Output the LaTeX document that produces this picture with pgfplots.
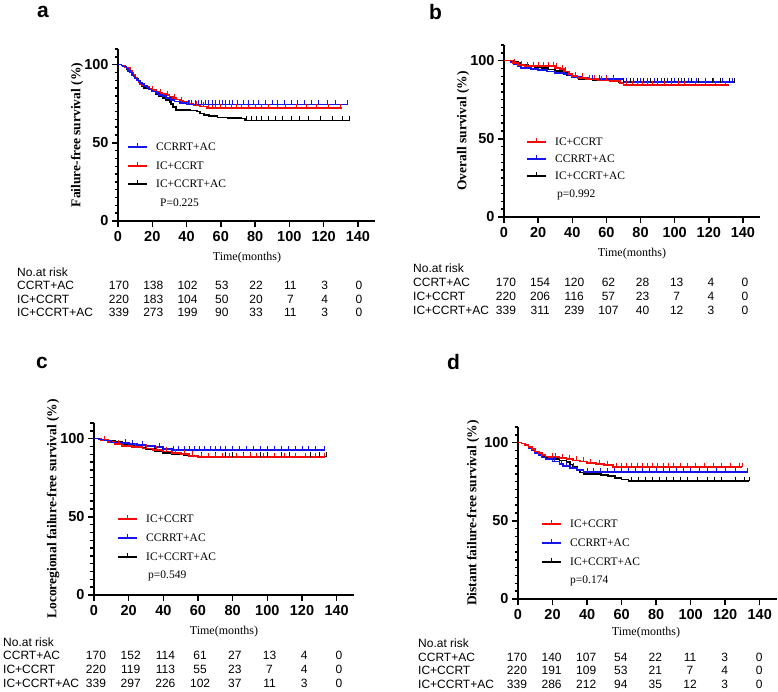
\documentclass[border=0pt]{standalone}
\usepackage{fontspec}
\setmainfont{Liberation Serif}
\setsansfont{Liberation Sans}
\usepackage{pgfplots}
\pgfplotsset{compat=1.18}

\definecolor{kmblue}{RGB}{20,20,235}
\definecolor{kmred}{RGB}{245,10,10}

\pgfplotsset{
  km/.style={
    scale only axis, height=172pt, anchor=south west,
    axis lines*=left, axis line style={line width=2pt},
    xmin=0, xmax=150, ymin=0, ymax=110,
    xtick={0,20,...,140}, ytick={0,50,100},
    extra y ticks={5,10,15,20,25,30,35,40,45,55,60,65,70,75,80,85,90,95,105,110},
    extra y tick labels={},
    extra y tick style={major tick length=3.5pt},
    tick align=outside, major tick length=6pt,
    tick style={line width=1.5pt, black},
    ticklabel style={font=\fontsize{14.5}{14.5}\selectfont\sffamily\bfseries},
    xticklabel style={yshift=-1pt},
    /pgf/number format/assume math mode=true,
    clip=false,
  },
  curve/.style={const plot, line width=1.7pt, mark=none},
  cens/.style={only marks, mark=|, mark size=2.2pt, mark options={line width=1pt, yshift=2pt}},
}

\tikzset{
  risk/.style={font=\fontsize{12}{12}\selectfont\sffamily, inner sep=0pt},
  legt/.style={font=\fontsize{11.5}{11.5}\selectfont\rmfamily, anchor=west, inner sep=0pt},
  ylab/.style={font=\fontsize{13.5}{13.5}\selectfont\rmfamily\bfseries, rotate=90, inner sep=0pt},
  xlab/.style={font=\fontsize{12}{12}\selectfont\rmfamily, inner sep=0pt},
  pan/.style={font=\fontsize{21}{21}\selectfont\sffamily\bfseries, anchor=base west, inner sep=0pt},
}

\newcommand\leg[4]{%
  \draw[#3, line width=1.7pt] (#1,#2) -- ++(19,0);
  \draw[#3, line width=1pt] (#1+9.5,#2) -- ++(0,-4);
  \node[legt] at (#1+28,#2) {#4};}
\newcommand\riskrow[4]{%
  \foreach \n [count=\i from 0] in {#4} \node[risk] at (#1+#2*\i,#3) {\n};}

\begin{document}
\begin{tikzpicture}
\path[use as bounding box] (0,0) rectangle (778pt,-692pt);

% ---------------- a: failure-free survival
\begin{axis}[km, at={(118pt,-221pt)}, width=257pt]
\addplot[curve, black] coordinates {(0,100)(2,99.4)(3,98.8)(5,97.3)(6,96.2)(7,95.3)(8,94.1)(9,92.9)(10,91.7)(11,90.6)(12,89.1)(13,87.6)(14,86.2)(15,84.9)(18,84.1)(20,82.9)(22,81.1)(24,79.9)(26,78.8)(28,77.6)(30,76.1)(31,74.6)(32,72.9)(34,71.2)(42,70.6)(46,70)(48,68.8)(50,67.8)(53,67)(58,66.2)(64,65.8)(72,65.5)(74,64.2)(135,64.2)};
\addplot[cens, black] coordinates {(75,64.2)(78,64.2)(81,64.2)(84,64.2)(88,64.2)(92,64.2)(96,64.2)(101,64.2)(106,64.2)(111,64.2)(118,64.2)(125,64.2)(131,64.2)(135,64.2)};
\addplot[curve, kmred] coordinates {(0,100)(2,99.5)(4,98.6)(5,97.7)(7,95.9)(8,94.5)(9,93.2)(10,91.8)(11,90.5)(12,89.1)(13,87.7)(14,86.8)(15,86.4)(17,85.5)(18,84.5)(20,83.6)(22,82.7)(24,81.8)(26,81.4)(28,80.5)(30,79.5)(32,78.6)(34,77.7)(36,76.8)(38,75.9)(41,75)(44,74.1)(48,73.2)(52,72.3)(131,72.3)};
\addplot[cens, kmred] coordinates {(20,83.6)(25,81.8)(29,80.5)(33,78.6)(37,76.8)(42,75)(46,74.1)(50,73.2)(53,72.3)(55,72.3)(57,72.3)(60,72.3)(63,72.3)(66,72.3)(69,72.3)(72,72.3)(76,72.3)(80,72.3)(84,72.3)(88,72.3)(93,72.3)(98,72.3)(104,72.3)(110,72.3)(116,72.3)(123,72.3)(130,72.3)};
\addplot[curve, kmblue] coordinates {(0,100)(2,99.4)(3,98.8)(5,97.6)(6,96)(7,95)(8,93.5)(9,92.4)(10,91.2)(11,90)(12,89.4)(13,88.2)(14,87.6)(15,86.5)(17,85.3)(18,84.1)(20,82.9)(22,81.8)(24,80.6)(26,80)(28,78.8)(31,77.6)(33,76.5)(36,75.3)(40,74.5)(134,74.5)};
\addplot[cens, kmblue] coordinates {(41,74.5)(43,74.5)(45,74.5)(47,74.5)(49,74.5)(51,74.5)(53,74.5)(55,74.5)(57,74.5)(59,74.5)(61,74.5)(63,74.5)(65,74.5)(67,74.5)(70,74.5)(73,74.5)(76,74.5)(79,74.5)(82,74.5)(86,74.5)(90,74.5)(93,74.5)(97,74.5)(101,74.5)(105,74.5)(109,74.5)(113,74.5)(117,74.5)(122,74.5)(127,74.5)(134,74.5)};
\end{axis}

% ---------------- b: overall survival
\begin{axis}[km, at={(504pt,-217pt)}, width=256pt]
\addplot[curve, black] coordinates {(0,100)(6,99.4)(8,98.3)(10,97.4)(14,96.7)(18,96)(22,95.3)(26,94.3)(30,93.3)(34,92)(37,90.7)(40,89.4)(44,88.4)(52,87.8)(62,86.9)(67,86)(135,86)};
\addplot[cens, black] coordinates {(70,86)(74,86)(78,86)(82,86)(86,86)(90,86)(94,86)(98,86)(102,86)(106,86)(110,86)(114,86)(118,86)(122,86)(127,86)(132,86)(135,86)};
\addplot[curve, kmblue] coordinates {(0,100)(4,98.8)(6,97.6)(8,96.4)(10,95.5)(16,94.7)(20,93.9)(25,93)(30,92.1)(35,91.3)(38,90.4)(40,89.6)(45,88.7)(50,88.2)(70,86.5)(135,86.5)};
\addplot[cens, kmblue] coordinates {(52,88.2)(56,88.2)(60,88.2)(64,88.2)(72,86.5)(76,86.5)(80,86.5)(84,86.5)(88,86.5)(92,86.5)(96,86.5)(100,86.5)(104,86.5)(108,86.5)(113,86.5)(118,86.5)(123,86.5)(128,86.5)(134,86.5)};
\addplot[curve, kmred] coordinates {(0,100)(5,98.6)(8,97.2)(12,96.4)(30,95.5)(33,94.5)(35,93)(38,91.4)(40,90)(43,89.1)(48,88.2)(55,87.3)(62,86.8)(68,85.5)(70,84.5)(132,84.5)};
\addplot[cens, kmred] coordinates {(6,98.6)(10,97.2)(14,96.4)(17,96.4)(20,96.4)(23,96.4)(26,96.4)(29,96.4)(31,95.5)(34,94.5)(36,93)(42,90)(46,89.1)(50,88.2)(53,88.2)(57,87.3)(60,87.3)(64,86.8)(72,84.5)(75,84.5)(78,84.5)(81,84.5)(84,84.5)(87,84.5)(90,84.5)(94,84.5)(98,84.5)(102,84.5)(106,84.5)(112,84.5)(118,84.5)(124,84.5)(130,84.5)};
\end{axis}

% ---------------- c: locoregional failure-free survival
\begin{axis}[km, at={(94pt,-595pt)}, width=260pt]
\addplot[curve, black] coordinates {(0,100)(4,99.4)(8,98.6)(12,97.7)(16,96.6)(20,95.5)(25,94.3)(30,93.2)(35,92)(40,91)(45,90.2)(52,89.3)(58,88.5)(134,88.5)};
\addplot[cens, black] coordinates {(62,88.5)(70,88.5)(76,88.5)(80,88.5)(86,88.5)(90,88.5)(96,88.5)(100,88.5)(108,88.5)(113,88.5)(125,88.5)(130,88.5)(134,88.5)};
\addplot[curve, kmred] coordinates {(0,100)(4,99.1)(8,97.7)(12,96.4)(16,95.5)(22,94.5)(28,93.6)(34,92.7)(40,91.8)(45,90.9)(50,90)(55,89.1)(60,88.2)(133,88.2)};
\addplot[cens, kmred] coordinates {(6,99.1)(14,96.4)(24,94.5)(30,93.6)(36,92.7)(42,91.8)(47,90.9)(52,90)(57,89.1)(62,88.2)(66,88.2)(70,88.2)(74,88.2)(78,88.2)(82,88.2)(86,88.2)(90,88.2)(94,88.2)(98,88.2)(104,88.2)(110,88.2)(116,88.2)(122,88.2)(128,88.2)(133,88.2)};
\addplot[curve, kmblue] coordinates {(0,100)(3,99.4)(6,98.8)(10,97.6)(16,97)(20,96.5)(25,95.9)(30,95.3)(35,94.7)(40,93.5)(45,92.9)(133,92.9)};
\addplot[cens, kmblue] coordinates {(18,97)(22,96.5)(28,95.9)(38,94.7)(46,92.9)(49,92.9)(52,92.9)(55,92.9)(58,92.9)(61,92.9)(64,92.9)(67,92.9)(70,92.9)(73,92.9)(76,92.9)(80,92.9)(84,92.9)(88,92.9)(92,92.9)(96,92.9)(100,92.9)(104,92.9)(108,92.9)(112,92.9)(116,92.9)(120,92.9)(124,92.9)(128,92.9)(133,92.9)};
\end{axis}

% ---------------- d: distant failure-free survival
\begin{axis}[km, at={(518pt,-599pt)}, width=259pt]
\addplot[curve, black] coordinates {(0,100)(2,99.4)(4,98.5)(6,97)(8,95.6)(10,94.1)(12,92.6)(14,91.5)(16,90.3)(20,89.4)(24,88.5)(28,87.4)(30,86)(32,84.5)(34,82.8)(36,80.9)(38,80)(48,79.4)(52,78.5)(56,77.4)(60,76.5)(64,75.6)(134,75.6)};
\addplot[cens, black] coordinates {(66,75.6)(70,75.6)(74,75.6)(78,75.6)(82,75.6)(86,75.6)(90,75.6)(94,75.6)(98,75.6)(104,75.6)(110,75.6)(114,75.6)(118,75.6)(126,75.6)(131,75.6)(134,75.6)};
\addplot[curve, kmblue] coordinates {(0,100)(2,99.4)(4,98.2)(6,96.5)(8,95)(10,93.5)(12,92)(14,90.5)(16,89.4)(20,88)(24,86.5)(26,85)(30,84)(34,82.5)(38,81.3)(133,81.3)};
\addplot[cens, kmblue] coordinates {(21,88)(25,86.5)(28,85)(32,84)(40,81.3)(44,81.3)(48,81.3)(52,81.3)(56,81.3)(60,81.3)(64,81.3)(68,81.3)(72,81.3)(76,81.3)(80,81.3)(84,81.3)(88,81.3)(92,81.3)(96,81.3)(100,81.3)(105,81.3)(110,81.3)(115,81.3)(120,81.3)(126,81.3)(133,81.3)};
\addplot[curve, kmred] coordinates {(0,100)(2,99.4)(4,98.5)(6,97.4)(8,95.9)(10,94.4)(12,93.2)(14,92.1)(16,91.2)(18,90.6)(24,90)(28,89.4)(32,88.5)(36,87.9)(40,87.1)(45,86.5)(50,85.5)(55,84.5)(130,84.5)};
\addplot[cens, kmred] coordinates {(20,90.6)(22,90.6)(26,90)(30,89.4)(34,88.5)(38,87.9)(42,87.1)(47,86.5)(52,85.5)(57,84.5)(60,84.5)(63,84.5)(66,84.5)(69,84.5)(72,84.5)(75,84.5)(78,84.5)(81,84.5)(84,84.5)(87,84.5)(90,84.5)(94,84.5)(98,84.5)(103,84.5)(108,84.5)(113,84.5)(118,84.5)(123,84.5)(128,84.5)(130,84.5)};
\end{axis}

% ---------------- text, legends, risk tables (1 unit = 1 px of the reference)
\begin{scope}[x=1pt, y=-1pt]
\node[pan] at (37,18) {a};
\node[pan] at (429,20) {b};
\node[pan] at (36,368) {c};
\node[pan] at (447,369) {d};

\node[ylab] at (77,135) {Failure-free survival (\%)};
\node[ylab] at (463,131) {Overall survival (\%)};
\node[ylab] at (53,509) {Locoregional failure-free survival (\%)};
\node[ylab] at (473,513) {Distant failure-free survival (\%)};

\node[xlab] at (247,258) {Time(months)};
\node[xlab] at (632,254) {Time(months)};
\node[xlab] at (224,632) {Time(months)};
\node[xlab] at (646,633) {Time(months)};

\leg{128}{147}{kmblue}{CCRRT+AC}
\leg{128}{166}{kmred}{IC+CCRT}
\leg{128}{184}{black}{IC+CCRT+AC}
\node[legt] at (160,203) {P=0.225};

\leg{527}{142}{kmred}{IC+CCRT}
\leg{527}{159}{kmblue}{CCRRT+AC}
\leg{527}{176}{black}{IC+CCRT+AC}
\node[legt] at (557,195) {p=0.992};

\leg{118}{519}{kmred}{IC+CCRT}
\leg{118}{538}{kmblue}{CCRRT+AC}
\leg{118}{557}{black}{IC+CCRT+AC}
\node[legt] at (148,576) {p=0.549};

\leg{542}{524}{kmred}{IC+CCRT}
\leg{542}{543}{kmblue}{CCRRT+AC}
\leg{542}{562}{black}{IC+CCRT+AC}
\node[legt] at (570,581) {p=0.174};

% risk table a
\node[risk, anchor=west] at (17,272) {No.at risk};
\node[risk, anchor=west] at (17,285) {CCRT+AC};
\node[risk, anchor=west] at (17,299) {IC+CCRT};
\node[risk, anchor=west] at (17,312) {IC+CCRT+AC};
\riskrow{119}{34.28}{285}{170,138,102,53,22,11,3,0}
\riskrow{119}{34.28}{299}{220,183,104,50,20,7,4,0}
\riskrow{119}{34.28}{312}{339,273,199,90,33,11,3,0}

% risk table b
\node[risk, anchor=west] at (413,268) {No.at risk};
\node[risk, anchor=west] at (413,282) {CCRT+AC};
\node[risk, anchor=west] at (413,296) {IC+CCRT};
\node[risk, anchor=west] at (413,310) {IC+CCRT+AC};
\riskrow{506}{34.14}{282}{170,154,120,62,28,13,4,0}
\riskrow{506}{34.14}{296}{220,206,116,57,23,7,4,0}
\riskrow{506}{34.14}{310}{339,311,239,107,40,12,3,0}

% risk table c
\node[risk, anchor=west] at (3,642) {No.at risk};
\node[risk, anchor=west] at (3,655) {CCRT+AC};
\node[risk, anchor=west] at (3,669) {IC+CCRT};
\node[risk, anchor=west] at (3,683) {IC+CCRT+AC};
\riskrow{96}{34.7}{655}{170,152,114,61,27,13,4,0}
\riskrow{96}{34.7}{669}{220,119,113,55,23,7,4,0}
\riskrow{96}{34.7}{683}{339,297,226,102,37,11,3,0}

% risk table d
\node[risk, anchor=west] at (418,643) {No.at risk};
\node[risk, anchor=west] at (418,657) {CCRT+AC};
\node[risk, anchor=west] at (418,670) {IC+CCRT};
\node[risk, anchor=west] at (418,684) {IC+CCRT+AC};
\riskrow{517}{34.6}{657}{170,140,107,54,22,11,3,0}
\riskrow{517}{34.6}{670}{220,191,109,53,21,7,4,0}
\riskrow{517}{34.6}{684}{339,286,212,94,35,12,3,0}
\end{scope}
\end{tikzpicture}
\end{document}
